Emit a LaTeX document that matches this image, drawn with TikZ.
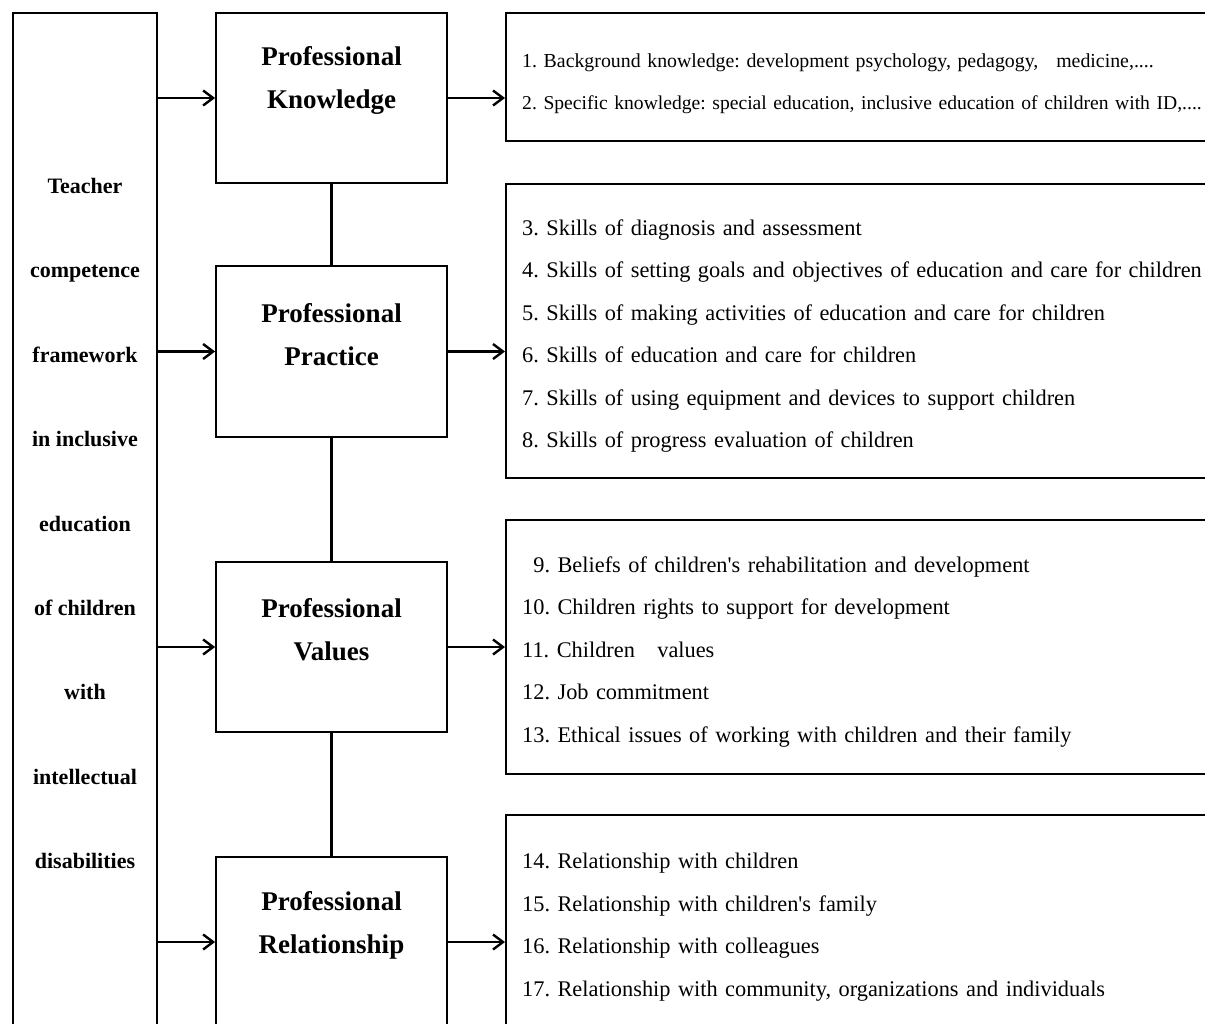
\documentclass[tikz,border=0pt]{standalone}
\usepackage{fontspec}
\setmainfont{Liberation Serif}
\usetikzlibrary{arrows.meta,positioning}

\tikzset{
  box/.style={draw, line width=1.8pt, inner sep=0pt},
  wire/.style={line width=2.2pt},
  link/.style={line width=2.4pt, -{Straight Barb[length=10pt,width=15pt]}},
  midbox/.style={box, minimum width=231pt, minimum height=170pt},
  head/.style={font=\fontsize{27}{43}\selectfont\bfseries, align=center},
  listbox/.style={box, anchor=west, minimum width=800pt},
  listtext/.style={anchor=west, align=left, text width=780pt, inner xsep=17pt, inner ysep=0pt,
    font=\fontsize{22.35}{42.5}\selectfont},
}

\begin{document}
\frenchspacing
\begin{tikzpicture}[x=1pt,y=-1pt]
\useasboundingbox (0,0) rectangle (1205,1023);
\clip (0,0) rectangle (1205,1023);

\node[box, minimum width=144pt, minimum height=1021pt, align=center,
  font=\fontsize{22}{84.4}\selectfont\bfseries] (frame) at (85,523.5)
  {Teacher\\competence\\framework\\in inclusive\\education\\of children\\with\\intellectual\\disabilities};

\node[midbox] (know) at (331.5,98) {};
\node[midbox, minimum height=171pt] (prac) at (331.5,351.5) {};
\node[midbox] (val) at (331.5,647) {};
\node[midbox] (rel) at (331.5,942) {};

\node[head] (knowT) at ([yshift=17.5pt]know.center) {Professional\\Knowledge};
\node[head] (pracT) at ([yshift=17pt]prac.center) {Professional\\Practice};
\node[head] (valT) at ([yshift=17pt]val.center) {Professional\\Values};
\node[head] (relT) at ([yshift=17pt]rel.center) {Professional\\Relationship};

\node[listbox, minimum height=128pt] (knowL) at (505,77) {};
\node[listbox, minimum height=294pt] (pracL) at (505,331) {};
\node[listbox, minimum height=254pt] (valL) at (505,647) {};
\node[listbox, minimum height=220pt] (relL) at (505,925) {};

\node[listtext, font=\fontsize{19.85}{42}\selectfont] (knowX) at (505,84)
  {1. Background knowledge: development psychology, pedagogy,\hspace{0.9em}medicine,....\\
   \fontsize{19.6}{42}\selectfont 2. Specific knowledge: special education, inclusive education of children with ID,....};
\node[listtext] (pracX) at (505,336)
  {3. Skills of diagnosis and assessment\\
   4. Skills of setting goals and objectives of education and care for children\\
   5. Skills of making activities of education and care for children\\
   6. Skills of education and care for children\\
   7. Skills of using equipment and devices to support children\\
   8. Skills of progress evaluation of children};
\node[listtext] (valX) at (505,652)
  {\hphantom{1}9. Beliefs of children\textquotesingle s rehabilitation and development\\
   10. Children rights to support for development\\
   11. Children\hspace{1em}values\\
   12. Job commitment\\
   13. Ethical issues of working with children and their family};
\node[listtext] (relX) at (505,927)
  {14. Relationship with children\\
   15. Relationship with children\textquotesingle s family\\
   16. Relationship with colleagues\\
   17. Relationship with community, organizations and individuals};

\draw[wire] (know) -- (prac);
\draw[wire] (prac) -- (val);
\draw[wire] (val) -- (rel);

\draw[link] (frame.east |- know) -- (know);
\draw[link] (frame.east |- prac) -- (prac);
\draw[link] (frame.east |- val) -- (val);
\draw[link] (frame.east |- rel) -- (rel);

\draw[link] (know) -- (know -| knowL.west);
\draw[link] (prac) -- (prac -| pracL.west);
\draw[link] (val) -- (val -| valL.west);
\draw[link] (rel) -- (rel -| relL.west);
\end{tikzpicture}
\end{document}
